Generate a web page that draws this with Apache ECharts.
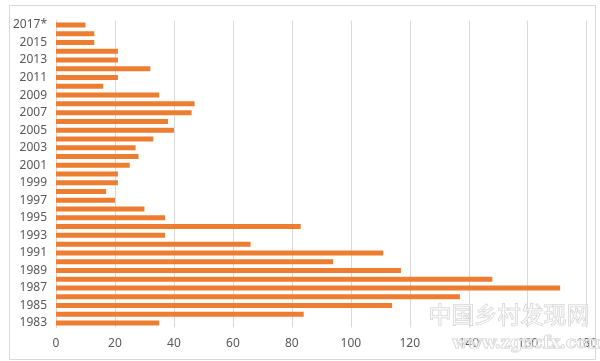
<!DOCTYPE html>
<html>
<head>
<meta charset="utf-8">
<script src="https://cdn.jsdelivr.net/npm/echarts@6/dist/echarts.min.js"></script>
<style>html,body{margin:0;padding:0;background:#fff}#c{width:600px;height:361px}</style>
</head>
<body>
<div id="c"></div>
<script>
const years = ['1983','1984','1985','1986','1987','1988','1989','1990','1991','1992','1993','1994','1995','1996','1997','1998','1999','2000','2001','2002','2003','2004','2005','2006','2007','2008','2009','2010','2011','2012','2013','2014','2015','2016','2017*'];
const values = [35,84,114,137,171,148,117,94,111,66,37,83,37,30,20,17,21,21,25,28,27,33,40,38,46,47,35,16,21,32,21,21,13,13,10];
const xTicks = {min:0, max:180, interval:20};

const chart = echarts.init(document.getElementById('c'));
chart.setOption({
  animation:false,
  backgroundColor:'#fff',
  grid:{left:56, right:11, top:20.6, bottom:33.6, containLabel:false},
  xAxis:{type:'value', min:xTicks.min, max:xTicks.max, interval:xTicks.interval,
    axisLine:{show:false}, axisTick:{show:false},
    splitLine:{lineStyle:{color:'#d9d9d9', width:1}},
    axisLabel:{color:'#595959', fontSize:12, fontFamily:'Noto Sans', margin:10}},
  yAxis:{type:'category', data:years,
    axisLine:{show:true, lineStyle:{color:'#d9d9d9'}}, axisTick:{show:false},
    axisLabel:{interval:1, color:'#595959', fontSize:12, fontFamily:'Noto Sans', margin:9}},
  series:[{type:'bar', data:values, barWidth:5, itemStyle:{color:'#ED7D31'}}],
  graphic:[
    {type:'rect', left:7, top:3, shape:{width:586, height:354}, style:{fill:'none', stroke:'#d9d9d9', lineWidth:1}, z:-1},
    {type:'text', left:428, top:302, style:{text:'中国乡村发现网', font:'23px "Noto Sans CJK SC"', fill:'rgba(255,255,255,0.6)', stroke:'#cfcfcf', lineWidth:1}, z:100},
    {type:'text', left:452, top:335, style:{text:'www.zgxcfx.com', font:'bold 17px "DejaVu Serif"', fill:'rgba(255,255,255,0.5)', stroke:'#cfcfcf', lineWidth:1}, z:100}
  ]
});
</script>
</body>
</html>
